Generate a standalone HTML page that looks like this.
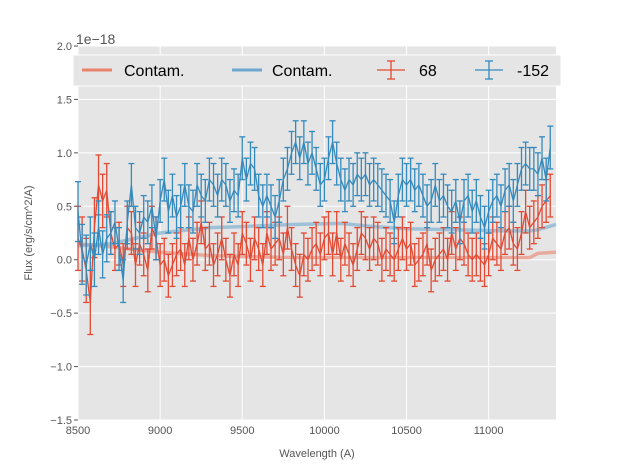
<!DOCTYPE html>
<html><head><meta charset="utf-8"><style>
body{margin:0;background:#fff;}
svg{font-family:"Liberation Sans",sans-serif;display:block;}
</style></head><body>
<svg id="chart" width="617" height="467" viewBox="0 0 617 467" xmlns="http://www.w3.org/2000/svg">
<rect x="78" y="46" width="478" height="374" fill="#e5e5e5"/>
<g id="grid"></g>
<g id="axes"></g>
<g id="series"></g>
<text x="76" y="44" font-size="14" fill="#555">1e−18</text>
<text x="317" y="457" font-size="11" fill="#555" text-anchor="middle">Wavelength (A)</text>
<text transform="translate(32,233) rotate(-90)" font-size="11" fill="#555" text-anchor="middle">Flux (erg/s/cm^2/A)</text>
<g>
<rect x="73" y="55" width="488" height="31" fill="#e5e5e5" stroke="#fff" stroke-width="1"/>
<line x1="82" y1="70" x2="112" y2="70" stroke="#e8826c" stroke-width="3"/>
<text x="124" y="76" font-size="16" fill="#000">Contam.</text>
<line x1="232" y1="70" x2="262" y2="70" stroke="#6fa8cf" stroke-width="3"/>
<text x="272" y="76" font-size="16" fill="#000">Contam.</text>
<g stroke="#e24a33" stroke-width="1.3">
<line x1="377" y1="70" x2="405" y2="70"/><line x1="391" y1="61" x2="391" y2="79"/><line x1="387" y1="61" x2="395" y2="61"/><line x1="387" y1="79" x2="395" y2="79"/></g>
<text x="419" y="76" font-size="16" fill="#000">68</text>
<g stroke="#348abd" stroke-width="1.3">
<line x1="475" y1="70" x2="503" y2="70"/><line x1="489" y1="61" x2="489" y2="79"/><line x1="485" y1="61" x2="493" y2="61"/><line x1="485" y1="79" x2="493" y2="79"/></g>
<text x="517" y="76" font-size="16" fill="#000">-152</text>
</g>
</svg>
<script>
const xStart = 8500, xStep = 25;
const blueVals = [0.45,0.05,-0.05,0.15, 0.0,0.3,0.05,0.2, 0.25,0.35,0.1,-0.2, 0.35,0.7,0.3,0.25, 0.4,0.35,0.5,0.2, 0.55,0.75,0.45,0.6, 0.4,0.5,0.7,0.5, 0.45,0.7,0.6,0.55, 0.75,0.7,0.6,0.75, 0.7,0.55,0.65,0.6, 0.95,0.75,0.9,0.85, 0.6,0.5,0.6,0.5, 0.4,0.55,0.75,0.85, 1.0,1.1,0.95,1.1, 0.9,1.0,0.85,0.7, 0.75,0.95,1.1,0.9, 0.75,0.65,0.75,0.7, 0.8,0.75,0.8,0.7, 0.75,0.7,0.65,0.6, 0.55,0.35,0.6,0.75, 0.7,0.75,0.65,0.7, 0.6,0.5,0.55,0.7, 0.55,0.6,0.5,0.45, 0.55,0.35,0.55,0.6, 0.45,0.55,0.4,0.3, 0.45,0.55,0.6,0.5, 0.65,0.7,0.55,0.7, 0.85,0.9,0.85,0.85, 0.8,0.95,0.75,1.05];
const redVals = [0.2,0.1,-0.1,-0.4, 0.3,0.7,0.55,0.65, 0.25,0.1,0.15,-0.05, 0.3,0.25,-0.05,0.15, 0.05,-0.1,0.3,0.2, -0.05,0.0,-0.15,-0.05, 0.05,0.1,-0.05,0.2, 0.0,0.15,0.35,0.1, 0.15,-0.05,0.05,0.2, 0.0,-0.15,0.05,-0.05, 0.25,0.15,0.0,0.2, 0.1,-0.05,0.25,0.1, 0.15,0.2,0.05,0.3, 0.1,-0.05,-0.15,0.05, 0.0,0.1,0.15,0.05, 0.2,0.25,0.05,0.25, 0.0,0.15,0.05,-0.05, 0.1,0.25,0.2,0.1, 0.2,0.15,0.0,0.1, 0.05,0.0,0.1,0.2, 0.1,0.15,-0.05,0.0, 0.05,0.15,-0.1,0.0, 0.05,0.1,0.0,0.25, 0.1,0.2,0.15,0.05, 0.0,0.05,0.0,-0.05, 0.05,0.2,0.15,0.1, 0.25,0.3,0.15,0.1, 0.25,0.45,0.3,0.35, 0.4,0.5,0.55,0.6];
const blueErr = [0.28,0.28,0.28,0.25, 0.25,0.25,0.22,0.22];
const redErr = [0.3,0.3,0.3,0.3, 0.28,0.28,0.25,0.25];
const defaultErr = 0.2;
const contamX = [8500,8700,9000,9300,9500,9800,10100,10300,10500,10800,11100,11250,11300,11410];
const contamRed = [0.15,0.12,0.07,0.04,0.03,0.02,0.02,0.02,0.02,0.02,0.02,0.02,0.06,0.07];
const contamBlue = [0.13,0.15,0.25,0.3,0.31,0.33,0.34,0.31,0.29,0.28,0.27,0.27,0.28,0.33];
const xTicks = [8500,9000,9500,10000,10500,11000];
const yTicks = [2.0,1.5,1.0,0.5,0.0,-0.5,-1.0,-1.5];

const NS = "http://www.w3.org/2000/svg";
const X0=78,X1=556,Y0=46,Y1=420,xmin=8500,xmax=11410,ymin=-1.5,ymax=2.0;
const xs = v => X0 + (v-xmin)/(xmax-xmin)*(X1-X0);
const ys = v => Y0 + (ymax-v)/(ymax-ymin)*(Y1-Y0);
function mk(tag, attrs, parent){const e=document.createElementNS(NS,tag);for(const k in attrs)e.setAttribute(k,attrs[k]);parent.appendChild(e);return e;}
const grid=document.getElementById('grid'), axes=document.getElementById('axes'), ser=document.getElementById('series');
xTicks.forEach(t=>{
  const l=mk('line',{x1:xs(t),x2:xs(t),y1:Y0,y2:Y1,stroke:'#fff','stroke-width':1},grid);
  
  
  const tx=mk('text',{x:xs(t),y:Y1+14,'font-size':11,fill:'#555','text-anchor':'middle'},axes);
  tx.textContent=t;
  
  
});
yTicks.forEach(t=>{
  const l=mk('line',{x1:X0,x2:X1,y1:ys(t),y2:ys(t),stroke:'#fff','stroke-width':1},grid);
  
  
  const tk=mk('line',{x1:X0-4,x2:X0,y1:ys(t),y2:ys(t),stroke:'#555'},axes);
  
  
  const tx=mk('text',{x:X0-6,y:ys(t)+4,'font-size':11,fill:'#555','text-anchor':'end'},axes);
  tx.textContent=(t<0?'\u2212':'')+Math.abs(t).toFixed(1);
  
  
});
function contam(vals,color,name){
  const p=mk('polyline',{points:contamX.map((x,i)=>xs(x)+','+ys(vals[i])).join(' '),fill:'none',stroke:color,'stroke-width':3.5,'stroke-opacity':0.6},ser);
  
  
}
function errSeries(vals,errs,color,name){
  const g=mk('g',{stroke:color,'stroke-width':1.3,fill:'none'},ser);
  
  
  const pts=[];
  vals.forEach((v,i)=>{
    const x=xs(xStart+xStep*i); const e=i<errs.length?errs[i]:defaultErr;
    const a=ys(v+e), b=ys(v-e);
    mk('line',{x1:x,x2:x,y1:a,y2:b},g);
    mk('line',{x1:x-3,x2:x+3,y1:a,y2:a},g);
    const c=mk('line',{x1:x-3,x2:x+3,y1:b,y2:b},g);
    
    
    pts.push(x+','+ys(v));
  });
  const pl=mk('polyline',{points:pts.join(' ')},g);
  
  
}
contam(contamRed,'#e8826c','contam-red-line');
contam(contamBlue,'#6fa8cf','contam-blue-line');
errSeries(redVals,redErr,'#e24a33','series-68');
errSeries(blueVals,blueErr,'#348abd','series-152');
</script>
</body></html>
